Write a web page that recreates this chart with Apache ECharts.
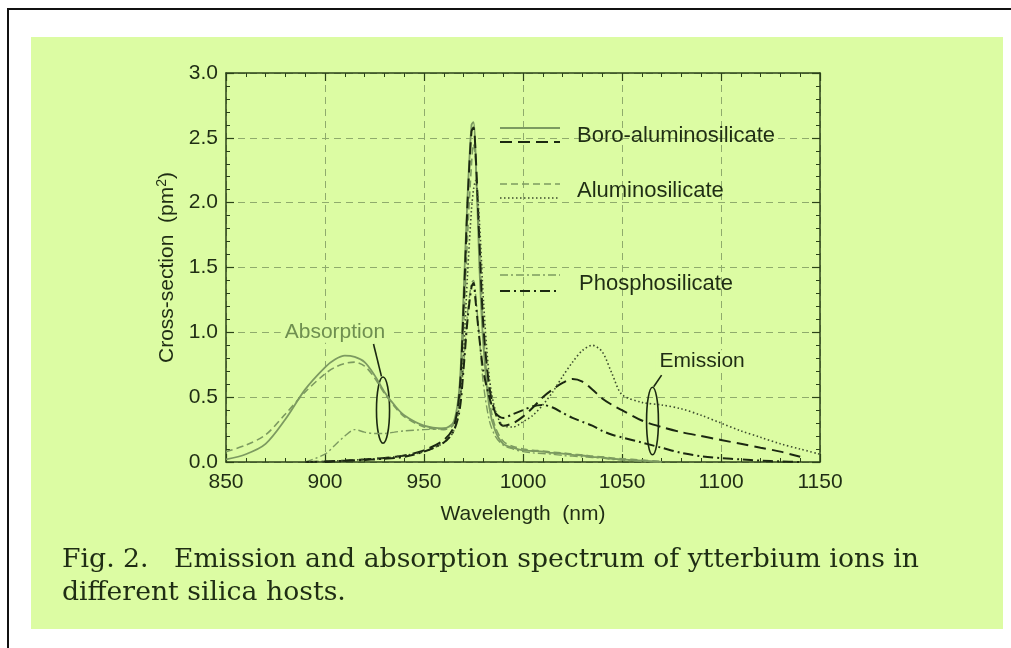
<!DOCTYPE html>
<html>
<head>
<meta charset="utf-8">
<script src="https://cdn.jsdelivr.net/npm/echarts@6/dist/echarts.min.js"></script>
<style>
html, body { margin: 0; padding: 0; background: #fff; overflow: hidden; }
#topline { position: absolute; left: 7px; top: 8px; width: 1004px; height: 2px; background: #111; }
#leftline { position: absolute; left: 7px; top: 8px; width: 2px; height: 640px; background: #111; }
#panel { position: absolute; left: 31px; top: 37px; width: 972px; height: 592px; background: #dcfca3; }
#chart { position: absolute; left: 0; top: 0; width: 1011px; height: 648px; }
</style>
</head>
<body>
<div id="topline"></div>
<div id="leftline"></div>
<div id="panel"></div>
<div id="chart"></div>
<script>
// wavelength grid (nm), denser around the 975 nm peak
const wavelengths = [850, 860, 870, 880, 890, 900, 905, 910, 915, 920, 925, 930, 935, 940,
	950, 960, 965, 968, 970, 972, 974, 975, 976, 978, 980, 983, 986,
	990, 995, 1000, 1005, 1010, 1015, 1020, 1025, 1030, 1035, 1040, 1045, 1050,
	1060, 1070, 1080, 1090, 1100, 1110, 1120, 1130, 1140, 1150];

// absorption cross-sections (pm^2)
const boroAbs = [0.02, 0.06, 0.14, 0.33, 0.56, 0.73, 0.79, 0.82, 0.81, 0.77, 0.67, 0.54, 0.44, 0.36,
	0.28, 0.26, 0.31, 0.6, 1.3, 2.05, 2.6, 2.62, 2.4, 1.5, 0.9, 0.42, 0.24,
	0.14, 0.11, 0.09, 0.085, 0.08, 0.07, 0.065, 0.055, 0.05, 0.04, 0.035, 0.025, 0.02,
	0.01, 0.0, null, null, null, null, null, null, null, null];
const aluAbs = [0.08, 0.13, 0.21, 0.37, 0.54, 0.68, 0.73, 0.76, 0.77, 0.74, 0.65, 0.53, 0.43, 0.35,
	0.27, 0.25, 0.29, 0.5, 1.05, 1.75, 2.3, 2.45, 2.35, 1.65, 1.0, 0.48, 0.27,
	0.16, 0.12, 0.1, 0.09, 0.085, 0.075, 0.07, 0.06, 0.055, 0.045, 0.04, 0.03, 0.025,
	0.015, 0.005, null, null, null, null, null, null, null, null];
const phosAbs = [null, null, null, null, 0.0, 0.06, 0.13, 0.2, 0.25, 0.23, 0.22, 0.22, 0.23, 0.24,
	0.25, 0.26, 0.3, 0.45, 0.75, 1.15, 1.38, 1.4, 1.3, 0.95, 0.6, 0.32, 0.2,
	0.13, 0.1, 0.08, 0.07, 0.065, 0.06, 0.05, 0.045, 0.04, 0.035, 0.03, 0.02, 0.015,
	0.005, 0.0, null, null, null, null, null, null, null, null];

// emission cross-sections (pm^2)
const boroEm = [null, null, null, null, 0.0, 0.005, 0.008, 0.01, 0.015, 0.02, 0.025, 0.03, 0.04, 0.05,
	0.09, 0.17, 0.27, 0.55, 1.2, 2.0, 2.55, 2.58, 2.4, 1.7, 1.05, 0.58, 0.38,
	0.28, 0.3, 0.35, 0.42, 0.5, 0.56, 0.61, 0.64, 0.62, 0.56, 0.49, 0.44, 0.4,
	0.32, 0.27, 0.23, 0.2, 0.17, 0.14, 0.11, 0.08, 0.04, null];
const aluEm = [null, null, null, null, 0.0, 0.005, 0.008, 0.01, 0.015, 0.02, 0.025, 0.03, 0.04, 0.05,
	0.08, 0.15, 0.24, 0.45, 0.85, 1.45, 1.95, 2.1, 2.17, 1.85, 1.25, 0.65, 0.4,
	0.28, 0.27, 0.31, 0.36, 0.44, 0.54, 0.66, 0.77, 0.86, 0.9, 0.85, 0.68, 0.52,
	0.46, 0.44, 0.41, 0.36, 0.3, 0.24, 0.19, 0.14, 0.1, 0.06];
const phosEm = [null, null, null, null, null, 0.0, 0.005, 0.01, 0.012, 0.015, 0.02, 0.025, 0.03, 0.04,
	0.08, 0.15, 0.24, 0.4, 0.72, 1.1, 1.35, 1.38, 1.25, 0.95, 0.7, 0.5, 0.38,
	0.34, 0.37, 0.4, 0.43, 0.44, 0.42, 0.38, 0.34, 0.31, 0.28, 0.24, 0.21, 0.19,
	0.15, 0.11, 0.07, 0.045, 0.03, 0.02, 0.01, 0.005, 0.0, null];

const xTicks = [850, 1150, 50];
const yTicks = [0, 3, 0.5];

const legendNames = ['Boro-aluminosilicate', 'Aluminosilicate', 'Phosphosilicate'];

// colours
const AXIS = '#2b4219';
const TEXT = '#1f2d14';
const GRAY = '#7c9a60';
const DARK = '#1b2811';
const GRID = '#8fab6c';
const BG = '#dcfca3';
const FONT = '"Liberation Sans", Arial, sans-serif';

const pairs = (ys) => wavelengths.map((w, i) => [w, ys[i]]);

function lineSeries(name, ys, color, width, dash) {
	return {
		name: name,
		type: 'line',
		data: pairs(ys),
		showSymbol: false,
		smooth: 0.3,
		connectNulls: false,
		lineStyle: { color: color, width: width, type: dash },
		z: 3
	};
}

function axisCommon(pos, showLabel) {
	return {
		type: 'value',
		position: pos,
		axisLine: { show: true, onZero: false, lineStyle: { color: AXIS, width: 1.5 } },
		axisTick: { show: true, inside: true, length: 8, lineStyle: { color: AXIS, width: 1.2 } },
		minorTick: { show: true, splitNumber: 5, length: 4, lineStyle: { color: AXIS, width: 1 } },
		axisLabel: { show: showLabel, color: TEXT, fontSize: 21, fontFamily: FONT },
		splitLine: { show: false }
	};
}

const chart = echarts.init(document.getElementById('chart'));

const xBottom = Object.assign(axisCommon('bottom', true), {
	min: xTicks[0], max: xTicks[1], interval: xTicks[2],
	name: 'Wavelength  (nm)', nameLocation: 'middle', nameGap: 42,
	nameTextStyle: { color: TEXT, fontSize: 21, fontFamily: FONT },
	splitLine: { show: true, lineStyle: { color: GRID, type: [7, 5], width: 1 } }
});
xBottom.axisLabel.margin = 10;
xBottom.axisLabel.formatter = (v) => String(v);
const xTop = Object.assign(axisCommon('top', false), { min: xTicks[0], max: xTicks[1], interval: xTicks[2] });

const yLeft = Object.assign(axisCommon('left', true), {
	min: yTicks[0], max: yTicks[1], interval: yTicks[2],
	name: 'Cross-section  (pm{s|2})', nameLocation: 'middle', nameGap: 40, nameRotate: 90,
	nameTextStyle: {
		color: TEXT, fontSize: 21, fontFamily: FONT,
		rich: { s: { fontSize: 14, fontFamily: FONT, color: TEXT, padding: [0, 0, 10, 0] } }
	},
	splitLine: { show: true, lineStyle: { color: GRID, type: [7, 5], width: 1 } }
});
yLeft.axisLabel.formatter = (v) => v.toFixed(1);
yLeft.axisLabel.margin = 8;
const yRight = Object.assign(axisCommon('right', false), { min: yTicks[0], max: yTicks[1], interval: yTicks[2] });

chart.setOption({
	animation: false,
	grid: { left: 226, right: 191, top: 73, bottom: 186 },
	xAxis: [xBottom, xTop],
	yAxis: [yLeft, yRight],
	series: [
		lineSeries('boroAbs', boroAbs, GRAY, 1.8, 'solid'),
		lineSeries('aluAbs', aluAbs, GRAY, 1.6, [7, 4]),
		lineSeries('phosAbs', phosAbs, GRAY, 1.4, [8, 3, 2, 3]),
		lineSeries('boroEm', boroEm, DARK, 2, [12, 6]),
		lineSeries('aluEm', aluEm, '#3c4b2e', 1.6, [1.5, 2.5]),
		lineSeries('phosEm', phosEm, DARK, 2, [10, 4, 2, 4])
	]
});

/** 图例与注释 */
function legendLine(y, color, width, dash) {
	return { type: 'line', silent: true, shape: { x1: 500, y1: y, x2: 560, y2: y },
		style: { stroke: color, lineWidth: width, lineDash: dash } };
}
function label(x, y, txt, size, color, family) {
	return { type: 'text', silent: true, x: x, y: y,
		style: { text: txt, fill: color, font: size + 'px ' + family, verticalAlign: 'middle' } };
}

const p = (x, y) => chart.convertToPixel({ xAxisIndex: 0, yAxisIndex: 0 }, [x, y]);

function ring(cx, cy, dx, dy, color) {
	const c = p(cx, cy), e = p(cx + dx, cy + dy);
	return { type: 'ellipse', silent: true, shape: { cx: c[0], cy: c[1], rx: Math.abs(e[0] - c[0]), ry: Math.abs(c[1] - e[1]) },
		style: { fill: null, stroke: color, lineWidth: 1.6 } };
}
function leader(x1, y1, x2, y2, color) {
	const a = p(x1, y1), b = p(x2, y2);
	return { type: 'line', silent: true, shape: { x1: a[0], y1: a[1], x2: b[0], y2: b[1] },
		style: { stroke: color, lineWidth: 1.6 } };
}
function note(x, y, txt, color) {
	const a = p(x, y);
	return { type: 'text', silent: true, x: a[0], y: a[1], z: 10,
		style: { text: txt, fill: color, font: '21px ' + FONT, align: 'center', verticalAlign: 'middle',
			backgroundColor: BG, padding: [0, 4] } };
}

chart.setOption({
	graphic: [
		legendLine(128, GRAY, 1.8, null),
		legendLine(142, DARK, 2, [12, 6]),
		legendLine(184, GRAY, 1.6, [7, 4]),
		legendLine(198, '#3c4b2e', 1.6, [1.5, 2.5]),
		legendLine(275, GRAY, 1.4, [8, 3, 2, 3]),
		legendLine(291, DARK, 2, [10, 4, 2, 4]),
		label(577, 136, legendNames[0], 22, TEXT, FONT),
		label(577, 191, legendNames[1], 22, TEXT, FONT),
		label(579, 284, legendNames[2], 22, TEXT, FONT),
		note(905, 1.0, 'Absorption', '#6f8f50'),
		note(1090.5, 0.78, 'Emission', TEXT),
		ring(929.3, 0.40, 3.3, 0.255, DARK),
		leader(924.5, 0.91, 928.5, 0.66, DARK),
		ring(1065.4, 0.316, 3.0, 0.26, DARK),
		leader(1070, 0.67, 1066, 0.58, DARK),
		label(62, 560, 'Fig. 2.   Emission and absorption spectrum of ytterbium ions in', 26.7, TEXT, '"DejaVu Serif", serif'),
		label(62, 593, 'different silica hosts.', 26.7, TEXT, '"DejaVu Serif", serif')
	]
});
</script>
</body>
</html>
